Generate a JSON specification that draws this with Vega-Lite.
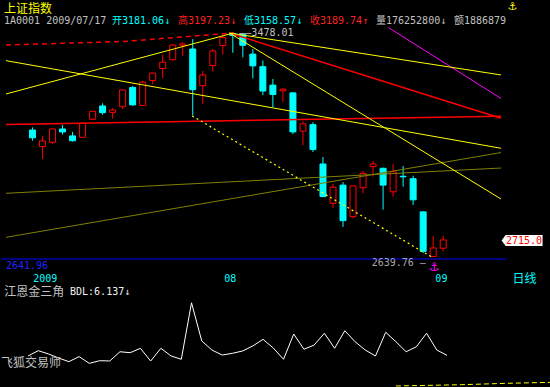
{
  "$schema": "https://vega.github.io/schema/vega-lite/v6.json",
  "background": "#000000",
  "padding": 0,
  "spacing": 0,
  "bounds": "flush",
  "resolve": {"scale": {"color": "independent"}},
  "config": {
    "view": {"stroke": null},
    "axis": {"domain": false, "ticks": false, "tickSize": 0, "grid": false, "labelColor": "#00ffff", "labelFont": "DejaVu Sans Mono", "labelFontSize": 10, "labelAlign": "right", "labelPadding": 42}
  },
  "datasets": {
    "header": [
      {"ln": 0.7, "col": 0, "text": "上证指数", "kind": "title"},
      {"ln": 0.95, "col": 84.8, "text": "⚓", "kind": "icon"},
      {"ln": 2, "col": 0, "text": "1A0001 2009/07/17", "kind": "id"},
      {"ln": 2, "col": 18, "text": "开3181.06↓", "kind": "open"},
      {"ln": 2, "col": 29, "text": "高3197.23↓", "kind": "high"},
      {"ln": 2, "col": 40, "text": "低3158.57↓", "kind": "low"},
      {"ln": 2, "col": 51, "text": "收3189.74↑", "kind": "close"},
      {"ln": 2, "col": 62, "text": "量176252800↓", "kind": "vol"},
      {"ln": 2, "col": 75, "text": "额18868798", "kind": "amt"}
    ],
    "candles": [
      {"d": "2009-07-07", "i": 0, "o": 3115, "h": 3125, "l": 3075, "c": 3086},
      {"d": "2009-07-08", "i": 1, "o": 3053, "h": 3093, "l": 3007, "c": 3074},
      {"d": "2009-07-09", "i": 2, "o": 3069, "h": 3120, "l": 3062, "c": 3119},
      {"d": "2009-07-10", "i": 3, "o": 3119, "h": 3134, "l": 3098, "c": 3108},
      {"d": "2009-07-13", "i": 4, "o": 3093, "h": 3108, "l": 3072, "c": 3075},
      {"d": "2009-07-14", "i": 5, "o": 3088, "h": 3145, "l": 3088, "c": 3140},
      {"d": "2009-07-15", "i": 6, "o": 3155, "h": 3187, "l": 3155, "c": 3185},
      {"d": "2009-07-16", "i": 7, "o": 3205, "h": 3215, "l": 3172, "c": 3180},
      {"d": "2009-07-17", "i": 8, "o": 3181.06, "h": 3197.23, "l": 3158.57, "c": 3189.74},
      {"d": "2009-07-20", "i": 9, "o": 3202, "h": 3266, "l": 3193, "c": 3265},
      {"d": "2009-07-21", "i": 10, "o": 3274, "h": 3280, "l": 3206, "c": 3209},
      {"d": "2009-07-22", "i": 11, "o": 3207, "h": 3299, "l": 3205, "c": 3294},
      {"d": "2009-07-23", "i": 12, "o": 3300, "h": 3329, "l": 3287, "c": 3328},
      {"d": "2009-07-24", "i": 13, "o": 3345, "h": 3397, "l": 3309, "c": 3369},
      {"d": "2009-07-27", "i": 14, "o": 3378, "h": 3437, "l": 3375, "c": 3433},
      {"d": "2009-07-28", "i": 15, "o": 3432, "h": 3443, "l": 3392, "c": 3437},
      {"d": "2009-07-29", "i": 16, "o": 3418, "h": 3455, "l": 3169, "c": 3266},
      {"d": "2009-07-30", "i": 17, "o": 3281, "h": 3336, "l": 3213, "c": 3321},
      {"d": "2009-07-31", "i": 18, "o": 3356, "h": 3418, "l": 3334, "c": 3411},
      {"d": "2009-08-03", "i": 19, "o": 3431, "h": 3467, "l": 3398, "c": 3461},
      {"d": "2009-08-04", "i": 20, "o": 3476, "h": 3478.01, "l": 3404, "c": 3469},
      {"d": "2009-08-05", "i": 21, "o": 3472, "h": 3475, "l": 3387, "c": 3432},
      {"d": "2009-08-06", "i": 22, "o": 3399, "h": 3418, "l": 3308, "c": 3355},
      {"d": "2009-08-07", "i": 23, "o": 3352, "h": 3375, "l": 3246, "c": 3261},
      {"d": "2009-08-10", "i": 24, "o": 3283, "h": 3306, "l": 3201, "c": 3248},
      {"d": "2009-08-11", "i": 25, "o": 3262, "h": 3271, "l": 3220, "c": 3268},
      {"d": "2009-08-12", "i": 26, "o": 3254, "h": 3256, "l": 3100, "c": 3108},
      {"d": "2009-08-13", "i": 27, "o": 3111, "h": 3148, "l": 3058, "c": 3138},
      {"d": "2009-08-14", "i": 28, "o": 3135, "h": 3144, "l": 3033, "c": 3042},
      {"d": "2009-08-17", "i": 29, "o": 2988, "h": 3014, "l": 2865, "c": 2866},
      {"d": "2009-08-18", "i": 30, "o": 2841, "h": 2914, "l": 2823, "c": 2901},
      {"d": "2009-08-19", "i": 31, "o": 2909, "h": 2920, "l": 2753, "c": 2776},
      {"d": "2009-08-20", "i": 32, "o": 2791, "h": 2906, "l": 2785, "c": 2906},
      {"d": "2009-08-21", "i": 33, "o": 2899, "h": 2962, "l": 2878, "c": 2953},
      {"d": "2009-08-24", "i": 34, "o": 2978, "h": 2999, "l": 2941, "c": 2988},
      {"d": "2009-08-25", "i": 35, "o": 2972, "h": 2974, "l": 2817, "c": 2909},
      {"d": "2009-08-26", "i": 36, "o": 2884, "h": 2988, "l": 2866, "c": 2959},
      {"d": "2009-08-27", "i": 37, "o": 2942, "h": 2981, "l": 2903, "c": 2940},
      {"d": "2009-08-28", "i": 38, "o": 2933, "h": 2944, "l": 2835, "c": 2854},
      {"d": "2009-08-31", "i": 39, "o": 2809, "h": 2811, "l": 2655, "c": 2661},
      {"d": "2009-09-01", "i": 40, "o": 2642, "h": 2719, "l": 2639.76, "c": 2674},
      {"d": "2009-09-02", "i": 41, "o": 2673, "h": 2719, "l": 2661, "c": 2704}
    ],
    "lines": [
      {"id": "red_dash", "i": -2.642, "p": 3433.2},
      {"id": "red_dash", "i": 9.1, "p": 3446.3},
      {"id": "red_dash", "i": 20.059, "p": 3478.0},
      {"id": "red_h", "i": -2.642, "p": 3135.8},
      {"id": "red_h", "i": 46.771, "p": 3166.5},
      {"id": "red_pk", "i": 19.667, "p": 3478.0},
      {"id": "red_pk", "i": 46.771, "p": 3159.0},
      {"id": "mag", "i": 35.519, "p": 3498.7},
      {"id": "mag", "i": 46.771, "p": 3233.1},
      {"id": "yel_up", "i": -2.642, "p": 3249.9},
      {"id": "yel_up", "i": 20.059, "p": 3478.0},
      {"id": "yel_dn", "i": -2.642, "p": 3374.5},
      {"id": "yel_dn", "i": 46.771, "p": 3046.8},
      {"id": "yel_pk1", "i": 19.667, "p": 3478.0},
      {"id": "yel_pk1", "i": 46.771, "p": 3321.0},
      {"id": "yel_pk2", "i": 19.667, "p": 3478.0},
      {"id": "yel_pk2", "i": 46.771, "p": 2857.1},
      {"id": "yel_dash", "i": 15.949, "p": 3167.6},
      {"id": "yel_dash", "i": 40.02, "p": 2636.4},
      {"id": "olv1", "i": -2.642, "p": 2878.4},
      {"id": "olv1", "i": 46.771, "p": 2972.9},
      {"id": "olv2", "i": -2.642, "p": 2713.8},
      {"id": "olv2", "i": 46.771, "p": 3030.7}
    ],
    "levels": [{"name": "base", "p": 2632.6}],
    "ann": [
      {"i": 20.65, "p": 3479, "text": "——3478.01", "kind": "hi"},
      {"i": 33.86, "p": 2616.5, "text": "2639.76 —", "kind": "lo"},
      {"i": -2.642, "p": 2605.6, "text": "2641.96", "kind": "base"},
      {"i": 0.07, "p": 2558.6, "text": "2009", "kind": "date"},
      {"i": 19.15, "p": 2558.6, "text": "08", "kind": "date"},
      {"i": 40.22, "p": 2558.6, "text": "09", "kind": "date"},
      {"i": 47.92, "p": 2558.6, "text": "日线", "kind": "period"},
      {"i": 40.1, "p": 2603.6, "text": "⚓", "kind": "mark"}
    ],
    "tag": [{"i": 48.875, "p": 2701.8, "text": "2715.0"}],
    "bdl": [
      {"i": 0, "v": 9.3}, {"i": 1, "v": 12.7}, {"i": 2, "v": 10.6}, {"i": 3, "v": 8.0},
      {"i": 4, "v": 5.7}, {"i": 5, "v": 8.9}, {"i": 6, "v": 4.6}, {"i": 7, "v": 6.3},
      {"i": 8, "v": 6.137}, {"i": 9, "v": 12.0}, {"i": 10, "v": 11.4}, {"i": 11, "v": 14.2},
      {"i": 12, "v": 6.1}, {"i": 13, "v": 14.2}, {"i": 14, "v": 9.3}, {"i": 15, "v": 7.2},
      {"i": 16, "v": 43.2}, {"i": 17, "v": 18.9}, {"i": 18, "v": 13.1}, {"i": 19, "v": 9.9},
      {"i": 20, "v": 11.0}, {"i": 21, "v": 12.5}, {"i": 22, "v": 15.7}, {"i": 23, "v": 19.9},
      {"i": 24, "v": 14.4}, {"i": 25, "v": 7.2}, {"i": 26, "v": 23.3}, {"i": 27, "v": 13.6},
      {"i": 28, "v": 16.3}, {"i": 29, "v": 23.8}, {"i": 30, "v": 14.2}, {"i": 31, "v": 25.4},
      {"i": 32, "v": 18.4}, {"i": 33, "v": 13.1}, {"i": 34, "v": 9.3}, {"i": 35, "v": 24.4},
      {"i": 36, "v": 18.4}, {"i": 37, "v": 12.0}, {"i": 38, "v": 15.2}, {"i": 39, "v": 23.8},
      {"i": 40, "v": 13.1}, {"i": 41, "v": 9.7}
    ],
    "aux": [
      {"i": 36.0, "v": -9.8}, {"i": 42.37, "v": -9.0}, {"i": 46.77, "v": -8.1}, {"i": 51.1, "v": -7.5}
    ],
    "indtext": [
      {"i": -2.32, "v": 49.75, "text": "江恩金三角", "kind": "name"},
      {"i": 4.11, "v": 49.75, "text": "BDL:6.137↓", "kind": "value"},
      {"i": -2.642, "v": 4.96, "text": "飞狐交易师", "kind": "name"}
    ]
  },
  "vconcat": [
    {
      "width": 505,
      "height": 27,
      "data": {"name": "header"},
      "encoding": {
        "x": {"field": "col", "type": "quantitative", "scale": {"domain": [-0.5, 83.667], "nice": false, "zero": false}, "axis": null},
        "y": {"field": "ln", "type": "quantitative", "scale": {"domain": [2.4615, 0.3846], "nice": false, "zero": false}, "axis": null}
      },
      "layer": [
        {
          "transform": [{"filter": "datum.kind === 'title'"}],
          "mark": {"type": "text", "align": "left", "baseline": "top", "font": "Noto Sans CJK SC", "fontSize": 12, "color": "#ffff00"},
          "encoding": {"text": {"field": "text"}}
        },
        {
          "transform": [{"filter": "datum.kind === 'icon'"}],
          "mark": {"type": "text", "align": "center", "baseline": "middle", "font": "DejaVu Sans", "fontSize": 11, "color": "#ffff00"},
          "encoding": {"text": {"field": "text"}}
        },
        {
          "transform": [{"filter": "datum.ln === 2"}],
          "mark": {"type": "text", "align": "left", "baseline": "middle", "font": "DejaVu Sans Mono, Noto Sans CJK SC", "fontSize": 10, "clip": true},
          "encoding": {
            "text": {"field": "text"},
            "color": {"field": "kind", "type": "nominal", "legend": null,
              "scale": {"domain": ["id", "open", "high", "low", "close", "vol", "amt"],
                        "range": ["#c0c0c0", "#00ffff", "#ff2020", "#00ffff", "#ff2020", "#c0c0c0", "#c0c0c0"]}}
          }
        }
      ]
    },
    {
      "width": 505,
      "height": 260,
      "encoding": {
        "x": {"field": "i", "type": "quantitative", "scale": {"domain": [-2.642, 46.771], "nice": false, "zero": false}, "axis": null}
      },
      "layer": [
        {
          "data": {"name": "candles"},
          "mark": {"type": "rule", "strokeWidth": 1},
          "encoding": {
            "y": {"field": "l", "type": "quantitative", "scale": {"domain": [2527.9, 3500.4], "nice": false, "zero": false},
                  "axis": {"orient": "right", "values": [2800, 3000, 3200, 3400], "format": ".1f", "title": null}},
            "y2": {"field": "h"},
            "color": {"condition": {"test": "datum.c >= datum.o", "value": "#ff0000"}, "value": "#00ffff"}
          }
        },
        {
          "data": {"name": "candles"},
          "mark": {"type": "bar", "width": 6, "strokeWidth": 1},
          "encoding": {
            "y": {"field": "o", "type": "quantitative", "scale": {"domain": [2527.9, 3500.4], "nice": false, "zero": false}, "axis": null},
            "y2": {"field": "c"},
            "fill": {"condition": {"test": "datum.c >= datum.o", "value": "#000000"}, "value": "#00ffff"},
            "stroke": {"condition": {"test": "datum.c >= datum.o", "value": "#ff0000"}, "value": "#00ffff"}
          }
        },
        {
          "data": {"name": "levels"},
          "mark": {"type": "rule", "color": "#0000ff", "strokeWidth": 1},
          "encoding": {
            "x": {"value": 0},
            "x2": {"value": 505},
            "y": {"field": "p", "type": "quantitative", "scale": {"domain": [2527.9, 3500.4], "nice": false, "zero": false}, "axis": null}
          }
        },
        {
          "data": {"name": "lines"},
          "transform": [{"filter": "datum.id === 'olv1' || datum.id === 'olv2'"}],
          "mark": {"type": "line", "color": "#808000", "strokeWidth": 1, "clip": true},
          "encoding": {
            "y": {"field": "p", "type": "quantitative", "scale": {"domain": [2527.9, 3500.4], "nice": false, "zero": false}, "axis": null},
            "detail": {"field": "id"}
          }
        },
        {
          "data": {"name": "lines"},
          "transform": [{"filter": "datum.id === 'red_h' || datum.id === 'red_pk'"}],
          "mark": {"type": "line", "color": "#ff0000", "strokeWidth": 1.5, "clip": true},
          "encoding": {
            "y": {"field": "p", "type": "quantitative", "scale": {"domain": [2527.9, 3500.4], "nice": false, "zero": false}, "axis": null},
            "detail": {"field": "id"}
          }
        },
        {
          "data": {"name": "lines"},
          "transform": [{"filter": "datum.id === 'red_dash'"}],
          "mark": {"type": "line", "color": "#ff0000", "strokeWidth": 1.5, "strokeDash": [5, 4], "clip": true},
          "encoding": {
            "y": {"field": "p", "type": "quantitative", "scale": {"domain": [2527.9, 3500.4], "nice": false, "zero": false}, "axis": null},
            "detail": {"field": "id"}
          }
        },
        {
          "data": {"name": "lines"},
          "transform": [{"filter": "datum.id === 'mag'"}],
          "mark": {"type": "line", "color": "#ff00ff", "strokeWidth": 1, "clip": true},
          "encoding": {
            "y": {"field": "p", "type": "quantitative", "scale": {"domain": [2527.9, 3500.4], "nice": false, "zero": false}, "axis": null},
            "detail": {"field": "id"}
          }
        },
        {
          "data": {"name": "lines"},
          "transform": [{"filter": "datum.id === 'yel_up' || datum.id === 'yel_dn' || datum.id === 'yel_pk1' || datum.id === 'yel_pk2'"}],
          "mark": {"type": "line", "color": "#ffff00", "strokeWidth": 1, "clip": true},
          "encoding": {
            "y": {"field": "p", "type": "quantitative", "scale": {"domain": [2527.9, 3500.4], "nice": false, "zero": false}, "axis": null},
            "detail": {"field": "id"}
          }
        },
        {
          "data": {"name": "lines"},
          "transform": [{"filter": "datum.id === 'yel_dash'"}],
          "mark": {"type": "line", "color": "#ffff00", "strokeWidth": 1.2, "strokeDash": [2, 3], "clip": true},
          "encoding": {
            "y": {"field": "p", "type": "quantitative", "scale": {"domain": [2527.9, 3500.4], "nice": false, "zero": false}, "axis": null},
            "detail": {"field": "id"}
          }
        },
        {
          "data": {"name": "ann"},
          "transform": [{"filter": "datum.kind === 'hi' || datum.kind === 'lo' || datum.kind === 'base' || datum.kind === 'date'"}],
          "mark": {"type": "text", "align": "left", "baseline": "middle", "font": "DejaVu Sans Mono", "fontSize": 10},
          "encoding": {
            "y": {"field": "p", "type": "quantitative", "scale": {"domain": [2527.9, 3500.4], "nice": false, "zero": false}, "axis": null},
            "text": {"field": "text"},
            "color": {"field": "kind", "type": "nominal", "legend": null,
              "scale": {"domain": ["hi", "lo", "base", "date"], "range": ["#c0c0c0", "#a8a8a8", "#2020ff", "#00ffff"]}}
          }
        },
        {
          "data": {"name": "ann"},
          "transform": [{"filter": "datum.kind === 'period'"}],
          "mark": {"type": "text", "align": "left", "baseline": "middle", "font": "Noto Sans CJK SC", "fontSize": 12, "color": "#00ffff"},
          "encoding": {
            "y": {"field": "p", "type": "quantitative", "scale": {"domain": [2527.9, 3500.4], "nice": false, "zero": false}, "axis": null},
            "text": {"field": "text"}
          }
        },
        {
          "data": {"name": "ann"},
          "transform": [{"filter": "datum.kind === 'mark'"}],
          "mark": {"type": "text", "align": "center", "baseline": "middle", "font": "DejaVu Sans", "fontSize": 12, "color": "#ff00ff"},
          "encoding": {
            "y": {"field": "p", "type": "quantitative", "scale": {"domain": [2527.9, 3500.4], "nice": false, "zero": false}, "axis": null},
            "text": {"field": "text"}
          }
        },
        {
          "data": {"name": "tag"},
          "mark": {"type": "point", "filled": true, "color": "#ffffff", "opacity": 1, "size": 1681,
                   "shape": "M -1 0 L -0.8 -0.27 L 1 -0.27 L 1 0.27 L -0.8 0.27 Z"},
          "encoding": {
            "y": {"field": "p", "type": "quantitative", "scale": {"domain": [2527.9, 3500.4], "nice": false, "zero": false}, "axis": null}
          }
        },
        {
          "data": {"name": "tag"},
          "mark": {"type": "text", "align": "center", "baseline": "middle", "dx": 2, "font": "DejaVu Sans Mono", "fontSize": 10, "color": "#ff0000"},
          "encoding": {
            "y": {"field": "p", "type": "quantitative", "scale": {"domain": [2527.9, 3500.4], "nice": false, "zero": false}, "axis": null},
            "text": {"field": "text"}
          }
        }
      ]
    },
    {
      "width": 505,
      "height": 100,
      "encoding": {
        "x": {"field": "i", "type": "quantitative", "scale": {"domain": [-2.642, 46.771], "nice": false, "zero": false}, "axis": null}
      },
      "layer": [
        {
          "data": {"name": "bdl"},
          "mark": {"type": "line", "color": "#ffffff", "strokeWidth": 1},
          "encoding": {
            "y": {"field": "v", "type": "quantitative", "scale": {"domain": [-10.45, 53.25], "nice": false, "zero": false},
                  "axis": {"orient": "right", "values": [20, 40], "format": ".2f", "title": null}}
          }
        },
        {
          "data": {"name": "aux"},
          "mark": {"type": "line", "color": "#ffff00", "strokeWidth": 1, "strokeDash": [5, 3]},
          "encoding": {
            "y": {"field": "v", "type": "quantitative", "scale": {"domain": [-10.45, 53.25], "nice": false, "zero": false}, "axis": null}
          }
        },
        {
          "data": {"name": "indtext"},
          "transform": [{"filter": "datum.kind === 'name'"}],
          "mark": {"type": "text", "align": "left", "baseline": "middle", "font": "Noto Sans CJK SC", "fontSize": 12, "color": "#c0c0c0"},
          "encoding": {
            "y": {"field": "v", "type": "quantitative", "scale": {"domain": [-10.45, 53.25], "nice": false, "zero": false}, "axis": null},
            "text": {"field": "text"}
          }
        },
        {
          "data": {"name": "indtext"},
          "transform": [{"filter": "datum.kind === 'value'"}],
          "mark": {"type": "text", "align": "left", "baseline": "middle", "font": "DejaVu Sans Mono", "fontSize": 10, "color": "#f0f0f0"},
          "encoding": {
            "y": {"field": "v", "type": "quantitative", "scale": {"domain": [-10.45, 53.25], "nice": false, "zero": false}, "axis": null},
            "text": {"field": "text"}
          }
        }
      ]
    }
  ]
}
